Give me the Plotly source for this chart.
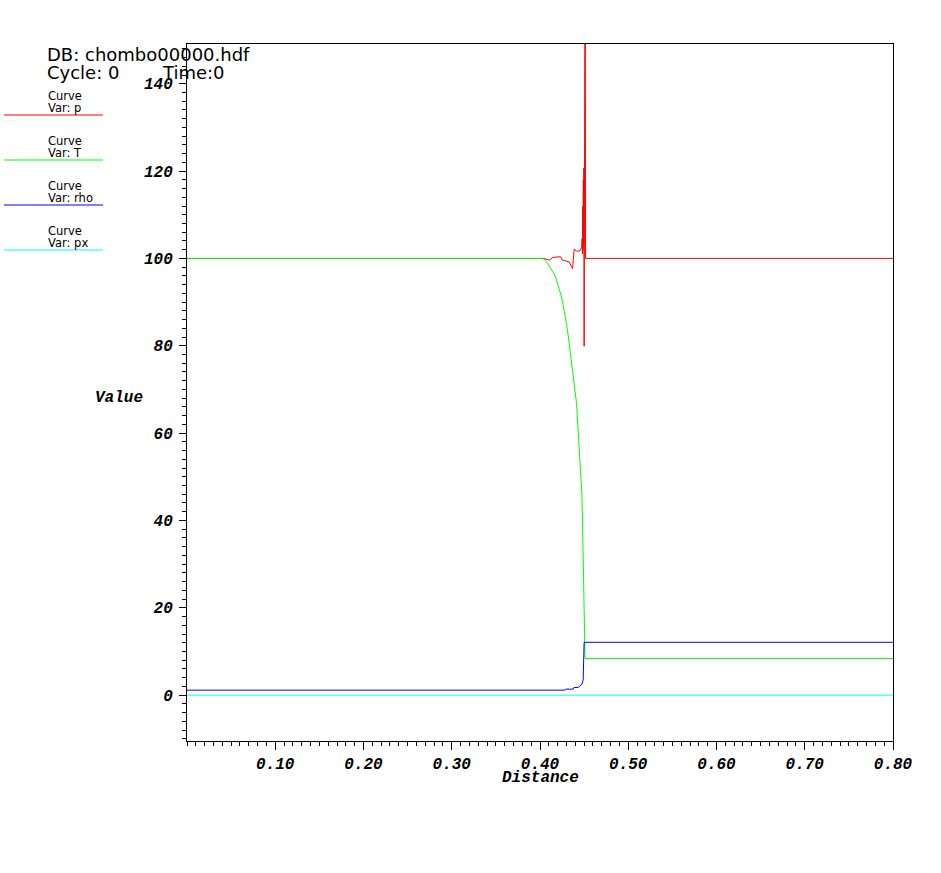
import plotly.graph_objects as go

# ---------------- data ----------------
p_x = [0.0, 0.4035, 0.4110, 0.4138, 0.4233, 0.4255, 0.4281, 0.4330, 0.4357, 0.4369,
       0.4387, 0.4414, 0.4452, 0.4471, 0.4478, 0.4482, 0.4485, 0.4488, 0.4491, 0.4494,
       0.4497, 0.4500, 0.4506, 0.4512, 0.4516, 0.80]
p_y = [100, 100, 99.6, 100.2, 100.4, 99.6, 99.5, 99.2, 98.1, 97.7,
       102.1, 101.7, 101.7, 102.5, 104.6, 101.0, 112.0, 102.0, 118.0, 103.0,
       120.7, 79.9, 106.0, 190.0, 100.0, 100.0]

T_x = [0.0, 0.4035, 0.4074, 0.4111, 0.4141, 0.4168, 0.4187, 0.4206, 0.4225, 0.4244,
       0.4262, 0.4281, 0.4300, 0.4319, 0.4338, 0.4357, 0.4376, 0.4387, 0.4395, 0.4414,
       0.4425, 0.4432, 0.4444, 0.4452, 0.4463, 0.4474, 0.4482, 0.4489, 0.4501, 0.4508,
       0.4510, 0.80]
T_y = [100, 100, 99.2, 98.1, 97.2, 96.2, 95.0, 93.9, 92.7, 91.2,
       89.3, 87.4, 85.1, 82.4, 79.4, 76.3, 72.5, 71.4, 69.8, 66.8,
       63.0, 60.7, 56.1, 55.7, 51.1, 46.2, 40.1, 29.8, 13.4, 12.6,
       8.4, 8.4]

rho_x = [0.0, 0.4281, 0.4290, 0.4376, 0.4385, 0.4432, 0.4452, 0.4474, 0.4489, 0.4497,
         0.4500, 0.80]
rho_y = [1.14, 1.14, 1.37, 1.37, 1.76, 1.76, 2.06, 2.5, 3.4, 9.5,
         12.1, 12.1]

px_x = [0.0, 0.80]
px_y = [0.0, 0.0]

x_ticks = [0.1, 0.2, 0.3, 0.4, 0.5, 0.6, 0.7, 0.8]
x_ticktext = ["0.10", "0.20", "0.30", "0.40", "0.50", "0.60", "0.70", "0.80"]
y_ticks = [0, 20, 40, 60, 80, 100, 120, 140]

series = [
    ("p", p_x, p_y, "#ff0000"),
    ("T", T_x, T_y, "#00ff00"),
    ("rho", rho_x, rho_y, "#0000ff"),
    ("px", px_x, px_y, "#00ffff"),
]

# ---------------- layout helpers ----------------
W, H = 941, 873
L, R, T, B = 187, 48, 44, 132
PW, PH = W - L - R, H - T - B


def X(sx):
    return (sx - L) / PW


def Y(sy):
    return (H - B - sy) / PH


mono = dict(family="Liberation Mono, Courier New, monospace", size=16,
            color="black", weight="bold", style="italic")
sans = "DejaVu Sans, Liberation Sans, sans-serif"

fig = go.Figure()
for name, xs, ys, col in series:
    fig.add_trace(go.Scatter(x=xs, y=ys, mode="lines", name=name,
                             line=dict(color=col, width=1), showlegend=False))

annotations = [
    dict(text="DB: chombo00000.hdf", x=X(45), y=Y(54), xanchor="left", yanchor="middle",
         font=dict(family=sans, size=18, color="black")),
    dict(text="Cycle: 0", x=X(45), y=Y(72), xanchor="left", yanchor="middle",
         font=dict(family=sans, size=18, color="black")),
    dict(text="Time:0", x=X(160), y=Y(72), xanchor="left", yanchor="middle",
         font=dict(family=sans, size=18, color="black")),
    dict(text="Value", x=X(119), y=Y(398), xanchor="center", yanchor="middle", font=mono),
    dict(text="Distance", x=X(540), y=Y(778), xanchor="center", yanchor="middle", font=mono),
]
shapes = []
for i, (name, xs, ys, col) in enumerate(series):
    ly = 115 + 45 * i
    annotations.append(dict(text="Curve", x=X(46), y=Y(ly - 19), xanchor="left",
                            yanchor="middle", font=dict(family=sans, size=11.5, color="black")))
    annotations.append(dict(text="Var: " + name, x=X(46), y=Y(ly - 7), xanchor="left",
                            yanchor="middle", font=dict(family=sans, size=11.5, color="black")))
    shapes.append(dict(type="line", xref="paper", yref="paper", x0=X(4), x1=X(103),
                       y0=Y(ly), y1=Y(ly), line=dict(color=col, width=1)))

for a in annotations:
    a.update(xref="paper", yref="paper", showarrow=False)

axis_common = dict(showline=True, linecolor="black", linewidth=1, mirror=True,
                   ticks="outside", tickcolor="black", tickwidth=1,
                   showgrid=False, zeroline=False, tickfont=mono)

fig.update_layout(
    width=W, height=H,
    margin=dict(l=L, r=R, t=T, b=B, pad=0),
    paper_bgcolor="white", plot_bgcolor="white",
    annotations=annotations, shapes=shapes, showlegend=False,
    xaxis=dict(range=[0, 0.8], tickmode="array", tickvals=x_ticks, ticktext=x_ticktext,
               ticklen=8,
               minor=dict(ticks="outside", ticklen=4, tickmode="linear", tick0=0,
                          dtick=0.01, tickcolor="black", showgrid=False),
               **axis_common),
    yaxis=dict(range=[-10.5, 149.1], tickmode="array", tickvals=y_ticks,
               ticklen=7, ticklabelstandoff=3,
               minor=dict(ticks="outside", ticklen=4, tickmode="linear", tick0=0,
                          dtick=2, tickcolor="black", showgrid=False),
               **axis_common),
)

fig.write_html("out.html", config={"displayModeBar": False},
               post_script="document.body.style.margin='0';document.body.style.overflow='hidden';")
